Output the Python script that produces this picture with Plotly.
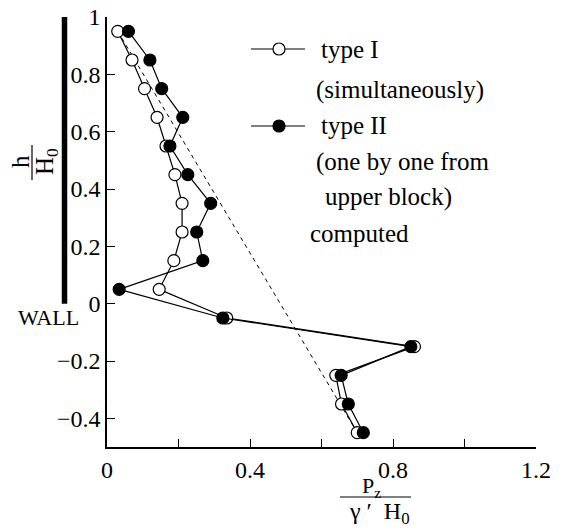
import plotly.graph_objects as go

# ---- data ----
h_levels = [0.95, 0.85, 0.75, 0.65, 0.55, 0.45, 0.35, 0.25, 0.15, 0.05, -0.05, -0.15, -0.25, -0.35, -0.45]
type1_p = [0.03, 0.07, 0.105, 0.14, 0.165, 0.19, 0.21, 0.21, 0.187, 0.146, 0.335, 0.86, 0.64, 0.656, 0.70]
type2_p = [0.06, 0.12, 0.153, 0.212, 0.176, 0.226, 0.29, 0.251, 0.268, 0.034, 0.324, 0.85, 0.655, 0.675, 0.717]
computed_p = [0.03, 0.70]
computed_h = [0.95, -0.45]

x_tickvals = [0, 0.4, 0.8, 1.2]
x_ticktext = ["0", "0.4", "0.8", "1.2"]
y_tickvals = [-0.4, -0.2, 0, 0.2, 0.4, 0.6, 0.8, 1.0]
y_ticktext = ["\u22120.4", "\u22120.2", "0", "0.2", "0.4", "0.6", "0.8", "1"]

FONT = "Liberation Serif"
OFF = 8  # default page body margin
W, H = 566 - OFF, 529 - OFF
L, T = 107 - OFF, 17 - OFF
PW, PH = 429, 430
R, B = W - L - PW, H - T - PH
XR = [0, 1.2]
YR = [-0.5, 1.0]


# helpers take pixel positions in the page (reference picture)
def px2px(px):
    return (px - OFF - L) / PW


def py2py(py):
    return (H - B - (py - OFF)) / PH


def px2dx(px):
    return XR[0] + px2px(px) * (XR[1] - XR[0])


def py2dy(py):
    return YR[0] + py2py(py) * (YR[1] - YR[0])


fig = go.Figure()

fig.add_trace(go.Scatter(x=computed_p, y=computed_h, mode="lines",
                         line=dict(color="black", width=1, dash="4px,4px"),
                         showlegend=False, hoverinfo="skip"))
fig.add_trace(go.Scatter(x=type1_p, y=h_levels, mode="lines+markers",
                         line=dict(color="black", width=1.2),
                         marker=dict(symbol="circle", size=12, color="white",
                                     line=dict(color="black", width=1.2)),
                         showlegend=False, name="type I"))
fig.add_trace(go.Scatter(x=type2_p, y=h_levels, mode="lines+markers",
                         line=dict(color="black", width=1.2),
                         marker=dict(symbol="circle", size=12, color="black",
                                     line=dict(color="black", width=1.2)),
                         showlegend=False, name="type II"))

# legend samples (manual)
for y_px, fill in [(49, "white"), (126, "black")]:
    yd = py2dy(y_px)
    fig.add_trace(go.Scatter(x=[px2dx(251), px2dx(305)], y=[yd, yd], mode="lines",
                             line=dict(color="black", width=1.2),
                             showlegend=False, hoverinfo="skip", cliponaxis=False))
    fig.add_trace(go.Scatter(x=[px2dx(279)], y=[yd], mode="markers",
                             marker=dict(symbol="circle", size=12, color=fill,
                                         line=dict(color="black", width=1.2)),
                             showlegend=False, hoverinfo="skip", cliponaxis=False))

annotations = []


def add_text(text, px, py, size=25, anchor="left", angle=0):
    annotations.append(dict(text=text, x=px2px(px), y=py2py(py), xref="paper", yref="paper",
                            xanchor=anchor, yanchor="middle", showarrow=False,
                            textangle=angle, borderpad=0,
                            font=dict(family=FONT, size=size, color="black")))


add_text("type I", 320, 49)
add_text("(simultaneously)", 315, 90)
add_text("type II", 320, 126)
add_text("(one by one from", 315, 162)
add_text("upper block)", 324, 197)
add_text("computed", 309, 233)

# y-axis label fraction
add_text("h", 20, 162, size=25, anchor="center", angle=-90)
add_text("H<sub>0</sub>", 46, 162, size=25, anchor="center", angle=-90)
# x-axis label fraction
add_text("P<sub>z</sub>", 371, 487, size=22, anchor="center")
add_text("\u03b3 \u2032  H<sub>0</sub>", 379, 513, size=24, anchor="center")
# WALL
add_text("WALL", 48, 317, size=22, anchor="center")

shapes = [
    dict(type="line", xref="paper", yref="paper", x0=px2px(32), x1=px2px(32),
         y0=py2py(145), y1=py2py(180), line=dict(color="black", width=1.2)),
    dict(type="line", xref="paper", yref="paper", x0=px2px(340), x1=px2px(411),
         y0=py2py(497), y1=py2py(497), line=dict(color="black", width=1.2)),
    dict(type="line", xref="paper", yref="paper", x0=px2px(64.5), x1=px2px(64.5),
         y0=(0 - YR[0]) / (YR[1] - YR[0]), y1=(1 - YR[0]) / (YR[1] - YR[0]),
         line=dict(color="black", width=5.5)),
]

axis_common = dict(ticks="inside", ticklen=8, tickwidth=1.2, tickcolor="black",
                   showline=True, linecolor="black", linewidth=1.5,
                   showgrid=False, zeroline=False, mirror=False, automargin=False,
                   ticklabeloverflow="allow",
                   tickfont=dict(family=FONT, size=24, color="black"))

fig.update_layout(
    width=W, height=H,
    margin=dict(l=L, r=R, t=T, b=B, pad=0, autoexpand=False),
    paper_bgcolor="white", plot_bgcolor="white",
    font=dict(family=FONT, size=24, color="black"),
    annotations=annotations, shapes=shapes,
    xaxis=dict(range=XR, tickvals=x_tickvals, ticktext=x_ticktext,
               minor=dict(ticks="inside", ticklen=8, tickwidth=1.2, tickcolor="black",
                          dtick=0.2, tick0=0, showgrid=False),
               **axis_common),
    yaxis=dict(range=YR, tickvals=y_tickvals, ticktext=y_ticktext, **axis_common),
)

fig.write_html("out.html")
